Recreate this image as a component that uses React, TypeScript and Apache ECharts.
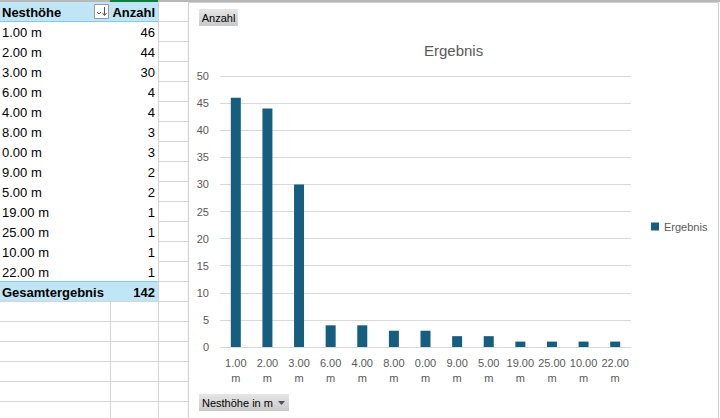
import React, { useEffect, useRef } from "react";
import * as echarts from "echarts";

const categories = ["1.00 m", "2.00 m", "3.00 m", "6.00 m", "4.00 m", "8.00 m", "0.00 m", "9.00 m", "5.00 m", "19.00 m", "25.00 m", "10.00 m", "22.00 m"];
const counts = [46, 44, 30, 4, 4, 3, 3, 2, 2, 1, 1, 1, 1];
const totalLabel = "Gesamtergebnis";
const totalValue = 142;
const headerLabel = "Nesthöhe";
const headerValue = "Anzahl";
const seriesName = "Ergebnis";
const chartTitle = "Ergebnis";
const valueFieldButton = "Anzahl";
const axisFieldButton = "Nesthöhe in m";
const yMax = 50;
const yInterval = 5;

const FONT = "Liberation Sans, Arial, sans-serif";
const HEADER_BG = "#c0e6f5";
const HEADER_LINE = "#83cbeb";
const GRID = "#d4d4d4";

function buildSheetGraphics() {
  const els: any[] = [];
  els.push({ type: "rect", shape: { x: 0, y: 0, width: 720, height: 418 }, style: { fill: "#ffffff" }, z: -10 });
  for (let k = 1; k <= 21; k++) {
    const y = 1.5 + 20 * k;
    els.push({ type: "line", shape: { x1: 158, y1: y, x2: 188, y2: y }, style: { stroke: GRID, lineWidth: 1 } });
  }
  for (let k = 15; k <= 21; k++) {
    const y = 1.5 + 20 * k;
    els.push({ type: "line", shape: { x1: 0, y1: y, x2: 158, y2: y }, style: { stroke: GRID, lineWidth: 1 } });
  }
  els.push({ type: "line", shape: { x1: 110.5, y1: 302, x2: 110.5, y2: 418 }, style: { stroke: GRID, lineWidth: 1 } });
  els.push({ type: "line", shape: { x1: 158.5, y1: 2, x2: 158.5, y2: 418 }, style: { stroke: GRID, lineWidth: 1 } });
  els.push({ type: "rect", shape: { x: 0, y: 0, width: 720, height: 2 }, style: { fill: "#b8b8b8" } });
  els.push({ type: "rect", shape: { x: 110, y: 0, width: 48, height: 2 }, style: { fill: "#107c41" } });
  els.push({ type: "rect", shape: { x: 0, y: 2, width: 158, height: 19 }, style: { fill: HEADER_BG } });
  els.push({ type: "line", shape: { x1: 0, y1: 21.5, x2: 158, y2: 21.5 }, style: { stroke: HEADER_LINE, lineWidth: 1 } });
  els.push({ type: "text", x: 2, y: 12, style: { text: headerLabel, font: `bold 13px ${FONT}`, fill: "#000000", verticalAlign: "middle", align: "left" } });
  els.push({ type: "text", x: 155, y: 12, style: { text: headerValue, font: `bold 13px ${FONT}`, fill: "#000000", verticalAlign: "middle", align: "right" } });
  els.push({ type: "rect", shape: { x: 94.5, y: 4.5, width: 14, height: 14 }, style: { fill: "#ffffff", stroke: "#9a9a9a", lineWidth: 1 } });
  els.push({ type: "polyline", shape: { points: [[97, 12], [99, 14], [101, 12]] }, style: { stroke: "#555", lineWidth: 1, fill: "none" } });
  els.push({ type: "line", shape: { x1: 104.5, y1: 7, x2: 104.5, y2: 15 }, style: { stroke: "#555", lineWidth: 1 } });
  els.push({ type: "polyline", shape: { points: [[102.5, 13], [104.5, 15.5], [106.5, 13]] }, style: { stroke: "#555", lineWidth: 1, fill: "none" } });
  categories.forEach((c, i) => {
    const cy = 32 + 20 * i;
    els.push({ type: "text", x: 2, y: cy, style: { text: c, font: `13px ${FONT}`, fill: "#000000", verticalAlign: "middle", align: "left" } });
    els.push({ type: "text", x: 155, y: cy, style: { text: String(counts[i]), font: `13px ${FONT}`, fill: "#000000", verticalAlign: "middle", align: "right" } });
  });
  els.push({ type: "rect", shape: { x: 0, y: 282, width: 158, height: 19 }, style: { fill: HEADER_BG } });
  els.push({ type: "line", shape: { x1: 0, y1: 281.5, x2: 158, y2: 281.5 }, style: { stroke: HEADER_LINE, lineWidth: 1 } });
  els.push({ type: "text", x: 2, y: 292, style: { text: totalLabel, font: `bold 13px ${FONT}`, fill: "#000000", verticalAlign: "middle", align: "left" } });
  els.push({ type: "text", x: 155, y: 292, style: { text: String(totalValue), font: `bold 13px ${FONT}`, fill: "#000000", verticalAlign: "middle", align: "right" } });
  els.push({ type: "rect", shape: { x: 188.5, y: 2.5, width: 530, height: 420 }, style: { fill: "#ffffff", stroke: "#d0d0d0", lineWidth: 1 }, z: -5 });
  const grad = new echarts.graphic.LinearGradient(0, 0, 0, 1, [
    { offset: 0, color: "#e6e6e6" },
    { offset: 1, color: "#c9c9c9" },
  ]);
  els.push({ type: "rect", shape: { x: 199, y: 9, width: 39, height: 17 }, style: { fill: grad } });
  els.push({ type: "text", x: 218.5, y: 18, style: { text: valueFieldButton, font: `11px ${FONT}`, fill: "#000000", align: "center", verticalAlign: "middle" } });
  const grad2 = new echarts.graphic.LinearGradient(0, 0, 0, 1, [
    { offset: 0, color: "#e6e6e6" },
    { offset: 1, color: "#c9c9c9" },
  ]);
  els.push({ type: "rect", shape: { x: 199, y: 394, width: 90, height: 17 }, style: { fill: grad2 } });
  els.push({ type: "text", x: 202, y: 403, style: { text: axisFieldButton, font: `11px ${FONT}`, fill: "#000000", align: "left", verticalAlign: "middle" } });
  els.push({ type: "polygon", shape: { points: [[278, 401], [285, 401], [281.5, 405]] }, style: { fill: "#505050" } });
  return els;
}

export default function App() {
  const ref = useRef<HTMLDivElement>(null);
  useEffect(() => {
    document.body.style.margin = "0";
    if (!ref.current) return;
    const chart = echarts.init(ref.current, null, { renderer: "svg" });
    chart.setOption({
      animation: false,
      backgroundColor: "transparent",
      graphic: { elements: buildSheetGraphics() },
      title: {
        text: chartTitle,
        left: 419,
        top: 38,
        textStyle: { fontFamily: FONT, fontSize: 15, fontWeight: "normal", color: "#595959" },
      },
      legend: {
        data: [seriesName],
        left: 651,
        top: 221,
        padding: 0,
        itemWidth: 8,
        itemHeight: 8,
        icon: "rect",
        textStyle: { fontFamily: FONT, fontSize: 11, color: "#595959" },
      },
      grid: { left: 220, right: 89, top: 76, bottom: 71, containLabel: false },
      xAxis: {
        type: "category",
        data: categories,
        axisLine: { lineStyle: { color: "#d9d9d9", width: 1 } },
        axisTick: { show: false },
        axisLabel: {
          interval: 0,
          margin: 8,
          color: "#595959",
          fontFamily: FONT,
          fontSize: 11,
          lineHeight: 15,
          formatter: (v: string) => v.replace(" ", "\n"),
        },
      },
      yAxis: {
        type: "value",
        min: 0,
        max: yMax,
        interval: yInterval,
        axisLine: { show: false },
        axisTick: { show: false },
        splitLine: { lineStyle: { color: "#d9d9d9", width: 1 } },
        axisLabel: { margin: 11, color: "#595959", fontFamily: FONT, fontSize: 11 },
      },
      series: [
        {
          name: seriesName,
          type: "bar",
          data: counts,
          barWidth: 10,
          itemStyle: { color: "#165e80" },
        },
      ],
    });
    return () => chart.dispose();
  }, []);
  return <div ref={ref} style={{ width: 720, height: 418 }} />;
}
